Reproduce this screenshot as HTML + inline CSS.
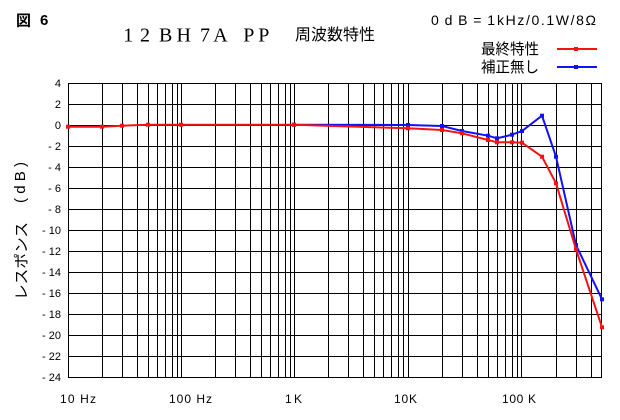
<!DOCTYPE html>
<html><head><meta charset="utf-8"><style>
html,body{margin:0;padding:0;background:#fff;}
svg{display:block;}
text{font-family:"Liberation Sans","Noto Sans CJK JP",sans-serif;fill:#000;}
</style></head><body>
<svg width="620" height="420" viewBox="0 0 620 420" xmlns="http://www.w3.org/2000/svg">
<rect width="620" height="420" fill="#fff"/>
<!-- grid -->
<g stroke="#000" stroke-width="1" shape-rendering="crispEdges">
<line x1="68.5" y1="83" x2="68.5" y2="378"/>
<line x1="102.5" y1="83" x2="102.5" y2="378"/><line x1="122.5" y1="83" x2="122.5" y2="378"/><line x1="137.5" y1="83" x2="137.5" y2="378"/><line x1="148.5" y1="83" x2="148.5" y2="378"/><line x1="157.5" y1="83" x2="157.5" y2="378"/><line x1="165.5" y1="83" x2="165.5" y2="378"/><line x1="172.5" y1="83" x2="172.5" y2="378"/><line x1="177.5" y1="83" x2="177.5" y2="378"/><line x1="181.5" y1="83" x2="181.5" y2="378"/>
<line x1="215.5" y1="83" x2="215.5" y2="378"/><line x1="235.5" y1="83" x2="235.5" y2="378"/><line x1="250.5" y1="83" x2="250.5" y2="378"/><line x1="261.5" y1="83" x2="261.5" y2="378"/><line x1="270.5" y1="83" x2="270.5" y2="378"/><line x1="278.5" y1="83" x2="278.5" y2="378"/><line x1="285.5" y1="83" x2="285.5" y2="378"/><line x1="290.5" y1="83" x2="290.5" y2="378"/><line x1="294.5" y1="83" x2="294.5" y2="378"/>
<line x1="328.5" y1="83" x2="328.5" y2="378"/><line x1="348.5" y1="83" x2="348.5" y2="378"/><line x1="363.5" y1="83" x2="363.5" y2="378"/><line x1="374.5" y1="83" x2="374.5" y2="378"/><line x1="383.5" y1="83" x2="383.5" y2="378"/><line x1="391.5" y1="83" x2="391.5" y2="378"/><line x1="398.5" y1="83" x2="398.5" y2="378"/><line x1="403.5" y1="83" x2="403.5" y2="378"/><line x1="408.5" y1="83" x2="408.5" y2="378"/>
<line x1="442.5" y1="83" x2="442.5" y2="378"/><line x1="462.5" y1="83" x2="462.5" y2="378"/><line x1="477.5" y1="83" x2="477.5" y2="378"/><line x1="488.5" y1="83" x2="488.5" y2="378"/><line x1="497.5" y1="83" x2="497.5" y2="378"/><line x1="505.5" y1="83" x2="505.5" y2="378"/><line x1="512.5" y1="83" x2="512.5" y2="378"/><line x1="517.5" y1="83" x2="517.5" y2="378"/><line x1="521.5" y1="83" x2="521.5" y2="378"/>
<line x1="556.5" y1="83" x2="556.5" y2="378"/><line x1="576.5" y1="83" x2="576.5" y2="378"/><line x1="591.5" y1="83" x2="591.5" y2="378"/><line x1="601.5" y1="83" x2="601.5" y2="378"/>
<line x1="68" y1="83.5" x2="602" y2="83.5"/><line x1="68" y1="104.5" x2="602" y2="104.5"/><line x1="68" y1="125.5" x2="602" y2="125.5"/><line x1="68" y1="146.5" x2="602" y2="146.5"/><line x1="68" y1="167.5" x2="602" y2="167.5"/><line x1="68" y1="188.5" x2="602" y2="188.5"/><line x1="68" y1="209.5" x2="602" y2="209.5"/><line x1="68" y1="230.5" x2="602" y2="230.5"/><line x1="68" y1="251.5" x2="602" y2="251.5"/><line x1="68" y1="272.5" x2="602" y2="272.5"/><line x1="68" y1="293.5" x2="602" y2="293.5"/><line x1="68" y1="314.5" x2="602" y2="314.5"/><line x1="68" y1="335.5" x2="602" y2="335.5"/><line x1="68" y1="356.5" x2="602" y2="356.5"/><line x1="68" y1="377.5" x2="602" y2="377.5"/>
</g>
<!-- blue series -->
<g fill="#1212f5">
<polyline fill="none" stroke="#1212f5" stroke-width="2" points="294,124.7 408,125 442,126 462,131 488,135.7 497,138.3 512,134.7 522,131 542,115.7 556,156.7 576,245 602,299.3"/>
<rect x="292" y="122.7" width="4" height="4"/><rect x="406" y="123" width="4" height="4"/><rect x="440" y="124" width="4" height="4"/><rect x="460" y="129" width="4" height="4"/><rect x="486" y="133.7" width="4" height="4"/><rect x="495" y="136.3" width="4" height="4"/><rect x="510" y="132.7" width="4" height="4"/><rect x="520" y="129" width="4" height="4"/><rect x="540" y="113.7" width="4" height="4"/><rect x="554" y="154.7" width="4" height="4"/><rect x="574" y="243" width="4" height="4"/><rect x="600" y="297.3" width="4" height="4"/>
</g>
<!-- red series -->
<g fill="#f51212">
<polyline fill="none" stroke="#f51212" stroke-width="2" points="68,126.7 102,126.7 122,125.7 148,124.7 181,124.7 294,124.7 408,128.3 442,130 462,133.3 488,140 497,142.3 512,142.3 522,142.7 542,156.7 556,183.3 576,249.3 602,327.3"/>
<rect x="66" y="124.7" width="4" height="4"/><rect x="100" y="124.7" width="4" height="4"/><rect x="120" y="123.7" width="4" height="4"/><rect x="146" y="122.7" width="4" height="4"/><rect x="179" y="122.7" width="4" height="4"/><rect x="292" y="122.7" width="4" height="4"/><rect x="406" y="126.3" width="4" height="4"/><rect x="440" y="128" width="4" height="4"/><rect x="460" y="131.3" width="4" height="4"/><rect x="486" y="138" width="4" height="4"/><rect x="495" y="140.3" width="4" height="4"/><rect x="510" y="140.3" width="4" height="4"/><rect x="520" y="140.7" width="4" height="4"/><rect x="540" y="154.7" width="4" height="4"/><rect x="554" y="181.3" width="4" height="4"/><rect x="574" y="247.3" width="4" height="4"/><rect x="600" y="325.3" width="4" height="4"/>
</g>
<!-- y tick labels -->
<g font-size="11" text-anchor="end">
<text x="61" y="87">4</text><text x="61" y="108">2</text><text x="61" y="129">0</text>
<text x="61" y="150">- 2</text><text x="61" y="171">- 4</text><text x="61" y="192">- 6</text><text x="61" y="213">- 8</text>
<text x="61" y="234">- 10</text><text x="61" y="255">- 12</text><text x="61" y="276">- 14</text><text x="61" y="297">- 16</text>
<text x="61" y="318">- 18</text><text x="61" y="339">- 20</text><text x="61" y="360">- 22</text><text x="61" y="381">- 24</text>
</g>
<!-- x labels -->
<g font-size="12">
<text x="60" y="403" textLength="36" lengthAdjust="spacing">10 Hz</text>
<text x="169" y="403" textLength="43" lengthAdjust="spacing">100 Hz</text>
<text x="285" y="403" textLength="17" lengthAdjust="spacing">1K</text>
<text x="394" y="403" textLength="23" lengthAdjust="spacing">10K</text>
<text x="502" y="403" textLength="34" lengthAdjust="spacing">100 K</text>
</g>
<!-- titles -->
<text x="16" y="25.5" font-size="15" font-weight="bold">図</text>
<text x="40" y="25" font-size="15" font-weight="bold">6</text>
<text y="41.5" font-size="20" style="font-family:'Liberation Serif','Noto Serif CJK SC',serif"><tspan x="123.3">1</tspan><tspan x="140">2</tspan><tspan x="159">B</tspan><tspan x="176.5">H</tspan><tspan x="200">7</tspan><tspan x="213.3">A</tspan><tspan x="243.3">P</tspan><tspan x="258.3">P</tspan></text>
<text x="295" y="40" font-size="16" textLength="80" lengthAdjust="spacingAndGlyphs">周波数特性</text>
<text x="431" y="25" font-size="14" textLength="64" lengthAdjust="spacing">0 d B = 1</text>
<text x="497" y="25" font-size="14" textLength="99" lengthAdjust="spacing">kHz/0.1W/8Ω</text>
<!-- legend -->
<text x="481" y="54" font-size="15" textLength="58" lengthAdjust="spacingAndGlyphs">最終特性</text>
<text x="481" y="72" font-size="15" textLength="58" lengthAdjust="spacingAndGlyphs">補正無し</text>
<line x1="557" y1="49" x2="597" y2="49" stroke="#f51212" stroke-width="2"/>
<rect x="574" y="47" width="4" height="4" fill="#f51212"/>
<line x1="557" y1="67" x2="597" y2="67" stroke="#1212f5" stroke-width="2"/>
<rect x="574" y="65" width="4" height="4" fill="#1212f5"/>
<!-- y axis title -->
<text transform="translate(26.5,300) rotate(-90)" font-size="15" textLength="78" lengthAdjust="spacingAndGlyphs">レスポンス</text>
<text transform="translate(25,203) rotate(-90)" font-size="15" textLength="41" lengthAdjust="spacing">( d B )</text>
</svg>
</body></html>
